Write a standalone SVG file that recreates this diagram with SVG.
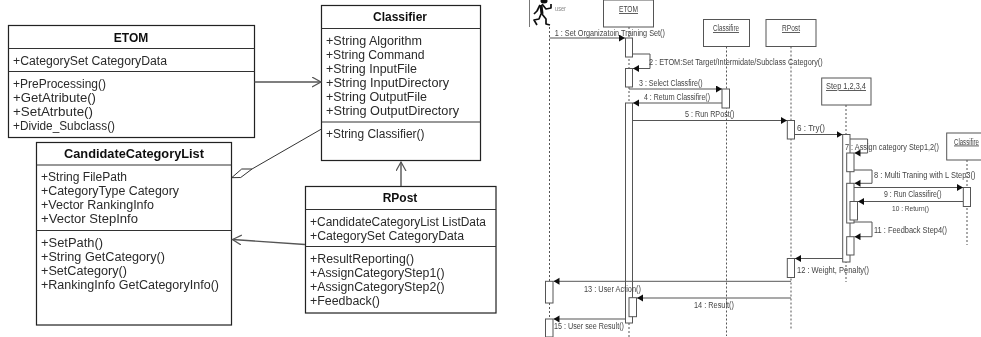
<svg xmlns="http://www.w3.org/2000/svg" width="981" height="337" viewBox="0 0 981 337">
<style>
text{font-family:"Liberation Sans",Arial,sans-serif;fill:#2a2a2a}
.t{font-size:12px}
.h{font-size:12px;font-weight:bold;text-anchor:middle;fill:#111}
.b{fill:#fff;stroke:#222;stroke-width:1.2}
.d{stroke:#333;stroke-width:1.2;fill:none}
.c{stroke:#555;stroke-width:1.4;fill:none}
.o{stroke:#333;stroke-width:1;fill:none}
.s{font-size:8.5px;fill:#444}
.u{text-decoration:underline}
.r{fill:#fff;stroke:#555;stroke-width:1}
.a{fill:#fff;stroke:#555;stroke-width:1}
.l{stroke:#555;stroke-width:1;stroke-dasharray:2 2;fill:none}
.m{stroke:#555;stroke-width:1;fill:none}
</style>
<defs>
<marker id="open" markerWidth="12" markerHeight="12" refX="9" refY="5" orient="auto" markerUnits="userSpaceOnUse"><path d="M0 0L9 5L0 10" fill="none" stroke="#555" stroke-width="1.2"/></marker>
<marker id="solid" markerWidth="8" markerHeight="8" refX="6" refY="3.500" orient="auto" markerUnits="userSpaceOnUse"><path d="M0 0L6 3.500L0 7Z" fill="#111"/></marker>
<filter id="soft" filterUnits="userSpaceOnUse" x="0" y="0" width="981" height="337"><feGaussianBlur stdDeviation="0.35"/></filter>
</defs>

<g filter="url(#soft)">
<g id="node-etom">
<rect class="b" x="8.5" y="25.5" width="246" height="112"/>
<path class="d" d="M8.500 48.500H254.500M8.500 71.500H254.500"/>
<text class="h" x="131" y="41.500">ETOM</text>
<text class="t" x="13" y="64.500" textLength="154" lengthAdjust="spacingAndGlyphs">+CategorySet CategoryData</text>
<text class="t" x="13" y="87.500" textLength="93" lengthAdjust="spacingAndGlyphs">+PreProcessing()</text>
<text class="t" x="13" y="101.500" textLength="83" lengthAdjust="spacingAndGlyphs">+GetAtribute()</text>
<text class="t" x="13" y="115.500" textLength="80" lengthAdjust="spacingAndGlyphs">+SetAtrbute()</text>
<text class="t" x="13" y="129.500" textLength="102" lengthAdjust="spacingAndGlyphs">+Divide_Subclass()</text>
</g>
<g id="node-classifier">
<rect class="b" x="321.5" y="5.5" width="159" height="155"/>
<path class="d" d="M321.500 28.500H480.500M321.500 122H480.500"/>
<text class="h" x="400" y="21">Classifier</text>
<text class="t" x="326" y="44.500" textLength="96" lengthAdjust="spacingAndGlyphs">+String Algorithm</text>
<text class="t" x="326" y="58.500" textLength="98.500" lengthAdjust="spacingAndGlyphs">+String Command</text>
<text class="t" x="326" y="72.500" textLength="91" lengthAdjust="spacingAndGlyphs">+String InputFile</text>
<text class="t" x="326" y="86.500" textLength="123" lengthAdjust="spacingAndGlyphs">+String InputDirectory</text>
<text class="t" x="326" y="100.500" textLength="101" lengthAdjust="spacingAndGlyphs">+String OutputFile</text>
<text class="t" x="326" y="114.500" textLength="133" lengthAdjust="spacingAndGlyphs">+String OutputDirectory</text>
<text class="t" x="326" y="137.500" textLength="98.500" lengthAdjust="spacingAndGlyphs">+String Classifier()</text>
</g>
<g id="node-candidatecategorylist">
<rect class="b" x="36.5" y="142.5" width="195" height="182.500"/>
<path class="d" d="M36.500 165H231.500M36.500 230.500H231.500"/>
<text class="h" x="134" y="158" textLength="140" lengthAdjust="spacingAndGlyphs">CandidateCategoryList</text>
<text class="t" x="41" y="180.500" textLength="86" lengthAdjust="spacingAndGlyphs">+String FilePath</text>
<text class="t" x="41" y="194.500" textLength="138" lengthAdjust="spacingAndGlyphs">+CategoryType Category</text>
<text class="t" x="41" y="208.500" textLength="113" lengthAdjust="spacingAndGlyphs">+Vector RankingInfo</text>
<text class="t" x="41" y="222.500" textLength="97" lengthAdjust="spacingAndGlyphs">+Vector StepInfo</text>
<text class="t" x="41" y="246.500" textLength="62" lengthAdjust="spacingAndGlyphs">+SetPath()</text>
<text class="t" x="41" y="260.500" textLength="124" lengthAdjust="spacingAndGlyphs">+String GetCategory()</text>
<text class="t" x="41" y="274.500" textLength="86" lengthAdjust="spacingAndGlyphs">+SetCategory()</text>
<text class="t" x="41" y="288.500" textLength="178" lengthAdjust="spacingAndGlyphs">+RankingInfo GetCategoryInfo()</text>
</g>
<g id="node-rpost">
<rect class="b" x="305.5" y="186.500" width="190.500" height="126.500"/>
<path class="d" d="M305.500 209.500H496M305.500 246.500H496"/>
<text class="h" x="400" y="202">RPost</text>
<text class="t" x="310" y="225.500" textLength="176" lengthAdjust="spacingAndGlyphs">+CandidateCategoryList ListData</text>
<text class="t" x="310" y="239.500" textLength="154" lengthAdjust="spacingAndGlyphs">+CategorySet CategoryData</text>
<text class="t" x="310" y="262.500" textLength="104" lengthAdjust="spacingAndGlyphs">+ResultReporting()</text>
<text class="t" x="310" y="276.500" textLength="134.500" lengthAdjust="spacingAndGlyphs">+AssignCategoryStep1()</text>
<text class="t" x="310" y="290.500" textLength="134.500" lengthAdjust="spacingAndGlyphs">+AssignCategoryStep2()</text>
<text class="t" x="310" y="304.500" textLength="70" lengthAdjust="spacingAndGlyphs">+Feedback()</text>
</g>
<g id="class-connectors">
<path class="c" marker-end="url(#open)" d="M254.500 82H321"/>
<path class="c" marker-end="url(#open)" d="M401 186V162"/>
<path class="c" marker-end="url(#open)" d="M305 244.500L232.500 239.500"/>
<path class="o" d="M321.500 129L252 169L241.700 169L231.700 177.700L240.700 177.500L252 169"/>
</g>

<g id="seq-lifelines">
<path class="l" d="M549.500 27V337M629 27V337M726.500 46.500V336M791 46.500V330M846 105V282M967 160V245"/>
</g>
<g id="seq-user">
<path stroke="#777" stroke-width="1" fill="none" d="M529.500 0V27"/>
<path stroke="#111" stroke-width="3" fill="none" stroke-linejoin="round" d="M541 5L542 14"/>
<path stroke="#111" stroke-width="1.700" fill="none" stroke-linejoin="round" d="M540 5L537 11L534 14M542 4L546 9L551 8L551 4M541 14L539 19L534 20L537 25M542 14L546 19L546 24L550 25"/>
<ellipse cx="544" cy="1" rx="3.500" ry="2.500" fill="#111"/>
<text x="555" y="11" font-size="6.500" style="fill:#888" textLength="11" lengthAdjust="spacingAndGlyphs">user</text>
</g>
<g id="seq-etom">
<rect class="r" x="603.5" y="0" width="50" height="27"/>
<text class="s u" x="619" y="12" textLength="19" lengthAdjust="spacingAndGlyphs">ETOM</text>
</g>
<g id="seq-classifire">
<rect class="r" x="703.5" y="19.500" width="46" height="27"/>
<text class="s u" x="713" y="31" textLength="26" lengthAdjust="spacingAndGlyphs">Classifire</text>
</g>
<g id="seq-rpost">
<rect class="r" x="766" y="19.500" width="50" height="27"/>
<text class="s u" x="782" y="31" textLength="18" lengthAdjust="spacingAndGlyphs">RPost</text>
</g>
<g id="seq-step">
<rect class="r" x="821.700" y="78" width="49.300" height="27"/>
<text class="s u" x="826" y="89" textLength="40" lengthAdjust="spacingAndGlyphs">Step 1,2,3,4</text>
</g>
<g id="seq-classifire2">
<rect class="r" x="946.700" y="133" width="40" height="27"/>
<text class="s u" x="954" y="144.500" textLength="25" lengthAdjust="spacingAndGlyphs">Classifire</text>
</g>
<g id="seq-activations">
<rect class="a" x="625.500" y="38" width="7" height="19"/>
<rect class="a" x="625.500" y="68.500" width="7" height="18.500"/>
<rect class="a" x="625.500" y="103" width="7" height="220"/>
<rect class="a" x="629" y="297.700" width="7.500" height="19"/>
<rect class="a" x="722" y="89" width="7.500" height="19"/>
<rect class="a" x="787.300" y="120.500" width="7.200" height="18.500"/>
<rect class="a" x="842.700" y="134.500" width="7.300" height="127.500"/>
<rect class="a" x="846.700" y="153" width="7.300" height="18.700"/>
<rect class="a" x="846.700" y="183.300" width="7.300" height="39.700"/>
<rect class="a" x="850" y="201.500" width="7.500" height="18.500"/>
<rect class="a" x="846.700" y="236.700" width="7.300" height="18.300"/>
<rect class="a" x="963.300" y="187.500" width="7.200" height="19"/>
<rect class="a" x="787.300" y="258.500" width="7.200" height="19"/>
<rect class="a" x="545.500" y="281.300" width="7.500" height="21.700"/>
<rect class="a" x="545.500" y="319" width="7.500" height="18"/>
</g>
<g id="seq-connectors">
<path class="m" marker-end="url(#solid)" d="M549.500 38H625"/>
<path class="m" marker-end="url(#solid)" d="M632.500 54H650V68.500H633"/>
<path class="m" marker-end="url(#solid)" d="M629 89H722"/>
<path class="m" marker-end="url(#solid)" d="M722 103H633"/>
<path class="m" marker-end="url(#solid)" d="M632.500 120.500H787"/>
<path class="m" marker-end="url(#solid)" d="M794.500 134.500H842.500"/>
<path class="m" marker-end="url(#solid)" d="M850 139H867.600V153H854.500"/>
<path class="m" marker-end="url(#solid)" d="M854 170H872V183.300H854.500"/>
<path class="m" marker-end="url(#solid)" d="M854 187.500H963"/>
<path class="m" marker-end="url(#solid)" d="M963 201.500H858"/>
<path class="m" marker-end="url(#solid)" d="M854 222H872V236.700H854.500"/>
<path class="m" marker-end="url(#solid)" d="M842.700 258.500H795"/>
<path class="m" marker-end="url(#solid)" d="M791 281.300H553.500"/>
<path class="m" marker-end="url(#solid)" stroke-width="1.500" d="M791 298H637"/>
<path class="m" marker-end="url(#solid)" d="M625.500 319H553.500"/>
</g>
<g id="seq-labels">
<text class="s" x="554.700" y="35.500" textLength="110.300" lengthAdjust="spacingAndGlyphs">1 : Set Organizatoin Training Set()</text>
<text class="s" x="649" y="64.500" textLength="173.700" lengthAdjust="spacingAndGlyphs">2 : ETOM:Set Target/Intermidate/Subclass Category()</text>
<text class="s" x="639" y="86" textLength="63.700" lengthAdjust="spacingAndGlyphs">3 : Select Classfire()</text>
<text class="s" x="644" y="100" textLength="66" lengthAdjust="spacingAndGlyphs">4 : Return Classifire()</text>
<text class="s" x="685" y="117" textLength="49.500" lengthAdjust="spacingAndGlyphs">5 : Run RPost()</text>
<text class="s" x="797" y="131" textLength="28" lengthAdjust="spacingAndGlyphs">6 : Try()</text>
<text class="s" x="845" y="149.500" textLength="94" lengthAdjust="spacingAndGlyphs">7 : Assign category Step1,2()</text>
<text class="s" x="874" y="178" textLength="101.500" lengthAdjust="spacingAndGlyphs">8 : Multi Traning with L Step3()</text>
<text class="s" x="884" y="197" textLength="57.500" lengthAdjust="spacingAndGlyphs">9 : Run Classifire()</text>
<text class="s" x="892" y="211" textLength="37" lengthAdjust="spacingAndGlyphs" style="font-size:7.500px">10 : Return()</text>
<text class="s" x="874" y="232.500" textLength="73" lengthAdjust="spacingAndGlyphs">11 : Feedback Step4()</text>
<text class="s" x="797" y="273" textLength="72" lengthAdjust="spacingAndGlyphs">12 : Weight, Penalty()</text>
<text class="s" x="584" y="291.500" textLength="57" lengthAdjust="spacingAndGlyphs">13 : User Action()</text>
<text class="s" x="694" y="308" textLength="40" lengthAdjust="spacingAndGlyphs">14 : Result()</text>
<text class="s" x="554" y="329" textLength="70" lengthAdjust="spacingAndGlyphs">15 : User see Result()</text>
</g>
</g>
</svg>
